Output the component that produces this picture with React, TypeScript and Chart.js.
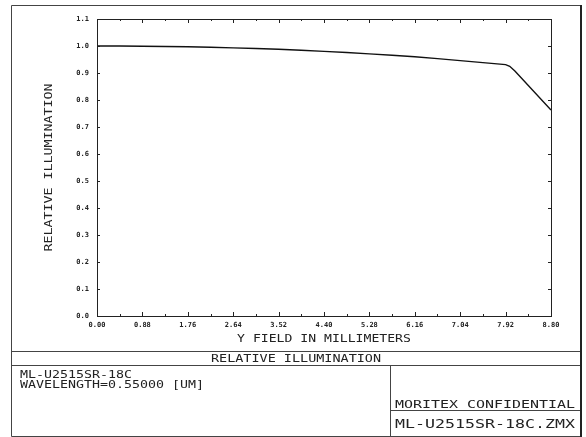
import React, { useEffect, useRef } from "react";
import { Chart, registerables } from "chart.js";

Chart.register(...registerables);

const fieldMM = [0, 0.44, 0.88, 1.32, 1.76, 2.2, 2.64, 3.08, 3.52, 3.96, 4.4, 4.84, 5.28, 5.72, 6.16, 6.6, 7.04, 7.48, 7.92, 8.0, 8.1, 8.8];
const relIllum = [1.0, 0.9998, 0.999, 0.998, 0.997, 0.9952, 0.993, 0.9906, 0.988, 0.9842, 0.98, 0.9757, 0.971, 0.9657, 0.96, 0.9533, 0.946, 0.9385, 0.931, 0.925, 0.907, 0.763];
const xTickValues = [0, 0.88, 1.76, 2.64, 3.52, 4.4, 5.28, 6.16, 7.04, 7.92, 8.8];
const yTickValues = [0, 0.1, 0.2, 0.3, 0.4, 0.5, 0.6, 0.7, 0.8, 0.9, 1.0, 1.1];

const yTitle = "RELATIVE ILLUMINATION";
const xTitle = "Y FIELD IN MILLIMETERS";
const plotTitle = "RELATIVE ILLUMINATION";
const infoLines = ["ML-U2515SR-18C", "WAVELENGTH=0.55000 [UM]"];
const companyText = "MORITEX CONFIDENTIAL";
const fileText = "ML-U2515SR-18C.ZMX";

const MONO = '"DejaVu Sans Mono", "Liberation Mono", monospace';

// draw text with monospace glyphs stretched horizontally so each char advances `adv` px
function drawStretched(ctx: CanvasRenderingContext2D, text: string, x: number, y: number, size: number, adv: number, align: "left" | "center") {
  ctx.save();
  ctx.font = `${size}px ${MONO}`;
  ctx.textBaseline = "alphabetic";
  ctx.textAlign = "left";
  const natural = ctx.measureText(text).width / text.length;
  const sx = adv / natural;
  const total = adv * text.length;
  const x0 = align === "center" ? x - total / 2 : x;
  ctx.translate(x0, y);
  ctx.scale(sx, 1);
  ctx.fillText(text, 0, 0);
  ctx.restore();
}

const framePlugin = {
  id: "zemaxFrame",
  afterDraw(chart: any) {
    const ctx: CanvasRenderingContext2D = chart.ctx;
    const { left, right, top, bottom } = chart.chartArea;
    const xs = chart.scales.x;
    const ys = chart.scales.y;
    ctx.save();
    ctx.strokeStyle = "#222";
    ctx.lineWidth = 1;
    ctx.strokeRect(Math.round(left) + 0.5, Math.round(top) + 0.5, Math.round(right - left), Math.round(bottom - top));
    ctx.beginPath();
    for (let i = 0; i < xTickValues.length; i++) {
      const px = Math.round(xs.getPixelForValue(xTickValues[i])) + 0.5;
      ctx.moveTo(px, bottom); ctx.lineTo(px, bottom - 4);
      ctx.moveTo(px, top); ctx.lineTo(px, top + 4);
      if (i < xTickValues.length - 1) {
        const mid = (xTickValues[i] + xTickValues[i + 1]) / 2;
        const pm = Math.round(xs.getPixelForValue(mid)) + 0.5;
        ctx.moveTo(pm, bottom); ctx.lineTo(pm, bottom - 2);
        ctx.moveTo(pm, top); ctx.lineTo(pm, top + 2);
      }
    }
    for (const v of yTickValues) {
      const py = Math.round(ys.getPixelForValue(v)) + 0.5;
      ctx.moveTo(left, py); ctx.lineTo(left + 3, py);
      ctx.moveTo(right, py); ctx.lineTo(right - 3, py);
    }
    ctx.stroke();

    const fl = 11.5, fr = 580.5, ft = 5.5, fb = 436.5;
    ctx.strokeStyle = "#444";
    ctx.beginPath();
    ctx.moveTo(fl, ft); ctx.lineTo(fr, ft);
    ctx.moveTo(fl, ft); ctx.lineTo(fl, fb);
    ctx.moveTo(fl, fb); ctx.lineTo(fr, fb);
    ctx.moveTo(fl, 351.5); ctx.lineTo(fr, 351.5);
    ctx.moveTo(fl, 365.5); ctx.lineTo(fr, 365.5);
    ctx.moveTo(390.5, 365.5); ctx.lineTo(390.5, fb);
    ctx.moveTo(390.5, 410.5); ctx.lineTo(fr, 410.5);
    ctx.stroke();
    ctx.lineWidth = 2;
    ctx.strokeStyle = "#222";
    ctx.beginPath();
    ctx.moveTo(581, 5); ctx.lineTo(581, 437);
    ctx.stroke();

    ctx.fillStyle = "#222";
    drawStretched(ctx, xTitle, (left + right) / 2, 342, 10, 7.9, "center");
    drawStretched(ctx, plotTitle, (fl + fr) / 2, 362, 10, 8.1, "center");
    drawStretched(ctx, infoLines[0], 20, 378, 10, 8, "left");
    drawStretched(ctx, infoLines[1], 20, 387.5, 10, 8, "left");
    drawStretched(ctx, companyText, 395, 408, 11, 9, "left");
    drawStretched(ctx, fileText, 395, 428, 11.5, 10, "left");
    ctx.save();
    ctx.translate(52, (top + bottom) / 2);
    ctx.rotate(-Math.PI / 2);
    drawStretched(ctx, yTitle, 0, 0, 10, 8, "center");
    ctx.restore();
    ctx.restore();
  },
};

export default function App() {
  const ref = useRef<HTMLCanvasElement | null>(null);
  useEffect(() => {
    if (!ref.current) return;
    const chart = new Chart(ref.current, {
      type: "line",
      data: {
        datasets: [
          {
            data: fieldMM.map((x, i) => ({ x, y: relIllum[i] })),
            borderColor: "#111",
            borderWidth: 1.4,
            pointRadius: 0,
            tension: 0,
            fill: false,
          },
        ],
      },
      options: {
        animation: false,
        responsive: false,
        events: [],
        layout: { padding: { left: 0, right: 35, top: 19, bottom: 0 } },
        plugins: { legend: { display: false }, tooltip: { enabled: false }, title: { display: false } },
        scales: {
          x: {
            type: "linear",
            min: 0,
            max: 8.8,
            afterBuildTicks: (s: any) => { s.ticks = xTickValues.map((v) => ({ value: v })); },
            afterFit: (s: any) => { s.height = 121; },
            grid: { display: false, drawTicks: false },
            border: { display: false },
            ticks: {
              padding: 5,
              maxRotation: 0,
              autoSkip: false,
              color: "#222",
              font: { family: MONO, size: 7, weight: "bold" },
              callback: (v: any) => Number(v).toFixed(2),
            },
          },
          y: {
            type: "linear",
            min: 0,
            max: 1.1,
            afterBuildTicks: (s: any) => { s.ticks = yTickValues.map((v) => ({ value: v })); },
            afterFit: (s: any) => { s.width = 97; },
            grid: { display: false, drawTicks: false },
            border: { display: false },
            ticks: {
              padding: 8,
              autoSkip: false,
              color: "#222",
              font: { family: MONO, size: 7, weight: "bold" },
              callback: (v: any) => Number(v).toFixed(1),
            },
          },
        },
      },
      plugins: [framePlugin],
    });
    return () => chart.destroy();
  }, []);
  return (
    <div style={{ position: "absolute", left: 0, top: 0, width: 586, height: 437, background: "#fff" }}>
      <canvas ref={ref} width={586} height={437} />
    </div>
  );
}
